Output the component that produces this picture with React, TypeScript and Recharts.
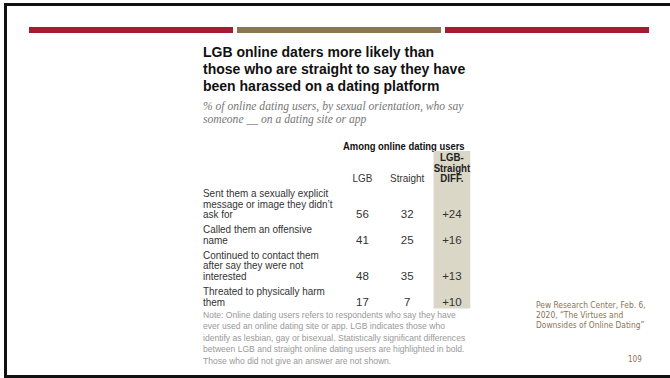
import { ScatterChart, Scatter, XAxis, YAxis, ReferenceArea } from "recharts";

const rowLabels: string[][] = [
  ["Sent them a sexually explicit", "message or image they didn\u2019t", "ask for"],
  ["Called them an offensive", "name"],
  ["Continued to contact them", "after say they were not", "interested"],
  ["Threated to physically harm", "them"],
];
const lgbValues = [56, 41, 48, 17];
const straightValues = [32, 25, 35, 7];
const diffValues = [24, 16, 13, 10];
const columnHeaders: string[][] = [["LGB"], ["Straight"], ["LGB-", "Straight", "DIFF."]];

const titleLines = [
  "LGB online daters more likely than",
  "those who are straight to say they have",
  "been harassed on a dating platform",
];
const subtitleLines = [
  "% of online dating users, by sexual orientation, who say",
  "someone __ on a dating site or app",
];
const noteLines = [
  "Note: Online dating users refers to respondents who say they have",
  "ever used an online dating site or app. LGB indicates those who",
  "identify as lesbian, gay or bisexual. Statistically significant differences",
  "between LGB and straight online dating users are highlighted in bold.",
  "Those who did not give an answer are not shown.",
];
const sourceLines = [
  "Pew Research Center, Feb. 6,",
  "2020, \u201cThe Virtues and",
  "Downsides of Online Dating\u201d",
];

const SANS = '"Liberation Sans", Arial, sans-serif';
const SERIF = '"Liberation Serif", "DejaVu Serif", serif';
const NARROW = 0.92; // horizontal squeeze, stands in for a condensed face
const LABEL_SIZE = 10.8;

// table geometry, in text lines
const LINE = 10.5;
const ROW_GAP = 0.45;
const HEAD_LINES = 4;
const HEAD_ROW = -1.4;
const BOTTOM_PAD = 0.65;

const rowPos: number[] = [];
let start = 0;
rowLabels.forEach((lines) => {
  rowPos.push(start + lines.length - 1);
  start += lines.length + ROW_GAP;
});
const yMin = -HEAD_LINES;
const yMax = rowPos[rowPos.length - 1] + BOTTOM_PAD;

const M_TOP = 11;
const M_BOTTOM = 8;
const AXIS_W = 145;
const CHART_W = 285;
const CHART_H = M_TOP + (yMax - yMin) * LINE + M_BOTTOM;
const LABEL_X = 8;

const cells = [
  ...lgbValues.map((v, i) => ({ col: 0, row: rowPos[i], text: String(v) })),
  ...straightValues.map((v, i) => ({ col: 1, row: rowPos[i], text: String(v) })),
  ...diffValues.map((v, i) => ({ col: 2, row: rowPos[i], text: `+${v}` })),
];
const headerCells = columnHeaders.map((lines, c) => ({ col: c, row: HEAD_ROW, lines }));

function ValueText(props: any) {
  const { cx, cy, payload } = props;
  return (
    <text x={cx} y={cy} dy={4.3} textAnchor="middle" fontSize={11.5} fill="#333" fontFamily={SANS}>
      {payload.text}
    </text>
  );
}

function HeaderText(props: any) {
  const { cx, cy, payload } = props;
  const lines: string[] = payload.lines;
  const bold = payload.col === 2;
  const sq = bold ? 0.88 : NARROW;
  return (
    <g transform={`translate(${cx} ${cy}) scale(${sq} 1)`}>
      <text
        textAnchor="middle"
        fontSize={bold ? 11 : LABEL_SIZE}
        fill={bold ? "#222" : "#333"}
        fontWeight={bold ? 700 : 400}
        fontFamily={SANS}
      >
        {lines.map((l, k) => (
          <tspan key={k} x={0} y={(k - (lines.length - 1)) * LINE} dy={4}>
            {l}
          </tspan>
        ))}
      </text>
    </g>
  );
}

function RowTick(props: any) {
  const { y, payload } = props;
  const idx = rowPos.findIndex((p) => Math.abs(p - payload.value) < 1e-6);
  if (idx < 0) return null;
  const lines = rowLabels[idx];
  return (
    <g transform={`translate(${LABEL_X} ${y}) scale(${NARROW} 1)`}>
      <text fontSize={LABEL_SIZE} fill="#333" fontFamily={SANS}>
        {lines.map((l, k) => (
          <tspan key={k} x={0} y={(k - (lines.length - 1)) * LINE} dy={4}>
            {l}
          </tspan>
        ))}
      </text>
    </g>
  );
}

function TableChart() {
  return (
    <ScatterChart
      width={CHART_W}
      height={CHART_H}
      margin={{ top: M_TOP, right: CHART_W - AXIS_W - 134.3, bottom: M_BOTTOM, left: 0 }}
    >
      <ReferenceArea x1={1.59} x2={2.41} fill="#dbd7c7" fillOpacity={1} stroke="none" />
      <XAxis dataKey="col" type="number" domain={[-0.5, 2.5]} hide />
      <YAxis
        dataKey="row"
        type="number"
        domain={[yMin, yMax]}
        reversed
        ticks={rowPos}
        interval={0}
        width={AXIS_W}
        axisLine={false}
        tickLine={false}
        tick={<RowTick />}
      />
      <Scatter data={headerCells} shape={<HeaderText />} isAnimationActive={false} />
      <Scatter data={cells} shape={<ValueText />} isAnimationActive={false} />
    </ScatterChart>
  );
}

const squeezed = (s: number): React.CSSProperties => ({
  transform: `scaleX(${s})`,
  transformOrigin: "left top",
});

export default function App() {
  return (
    <div
      style={{
        position: "absolute",
        left: 0,
        top: 0,
        width: 670,
        height: 378,
        background: "#fff",
        overflow: "hidden",
      }}
    >
      {/* slide frame */}
      <div style={{ position: "absolute", left: 4, top: 3, width: 3, height: 375, background: "#111" }} />
      <div style={{ position: "absolute", left: 4, top: 3, width: 666, height: 3, background: "#111" }} />
      <div style={{ position: "absolute", left: 4, top: 375, width: 666, height: 3, background: "#111" }} />

      {/* header bars */}
      <div style={{ position: "absolute", left: 29, top: 27, width: 204, height: 6, background: "#a51b30" }} />
      <div style={{ position: "absolute", left: 237, top: 27, width: 204, height: 6, background: "#8a7652" }} />
      <div style={{ position: "absolute", left: 445, top: 27, width: 204, height: 6, background: "#a51b30" }} />

      <div
        style={{
          position: "absolute",
          left: 203,
          top: 44,
          fontFamily: SANS,
          fontWeight: 700,
          fontSize: 14,
          lineHeight: "17px",
          color: "#111",
          whiteSpace: "nowrap",
        }}
      >
        {titleLines.map((l) => (
          <div key={l}>{l}</div>
        ))}
      </div>

      <div
        style={{
          position: "absolute",
          left: 203,
          top: 101,
          fontFamily: SERIF,
          fontStyle: "italic",
          fontSize: 11.6,
          lineHeight: "12.5px",
          color: "#777",
          whiteSpace: "nowrap",
        }}
      >
        {subtitleLines.map((l) => (
          <div key={l}>{l}</div>
        ))}
      </div>

      <div
        style={{
          position: "absolute",
          left: 343,
          top: 139,
          fontFamily: SANS,
          fontWeight: 700,
          fontSize: 11.5,
          lineHeight: "14px",
          color: "#111",
          whiteSpace: "nowrap",
          ...squeezed(0.82),
        }}
      >
        Among online dating users
      </div>

      <div style={{ position: "absolute", left: 195, top: 140 }}>
        <TableChart />
      </div>

      <div
        style={{
          position: "absolute",
          left: 203,
          top: 308.5,
          fontFamily: SANS,
          fontSize: 9.5,
          lineHeight: "11.6px",
          color: "#999",
          whiteSpace: "nowrap",
          ...squeezed(0.9),
        }}
      >
        {noteLines.map((l) => (
          <div key={l}>{l}</div>
        ))}
      </div>

      <div
        style={{
          position: "absolute",
          left: 536,
          top: 300,
          fontFamily: '"DejaVu Sans Condensed", "DejaVu Sans", sans-serif',
          fontSize: 8.4,
          lineHeight: "10px",
          color: "#8b7355",
          whiteSpace: "nowrap",
        }}
      >
        {sourceLines.map((l) => (
          <div key={l}>{l}</div>
        ))}
      </div>

      <div
        style={{
          position: "absolute",
          left: 628,
          top: 354,
          fontFamily: '"DejaVu Sans Condensed", "DejaVu Sans", sans-serif',
          fontSize: 8,
          lineHeight: "12px",
          color: "#8b7355",
        }}
      >
        109
      </div>
    </div>
  );
}
